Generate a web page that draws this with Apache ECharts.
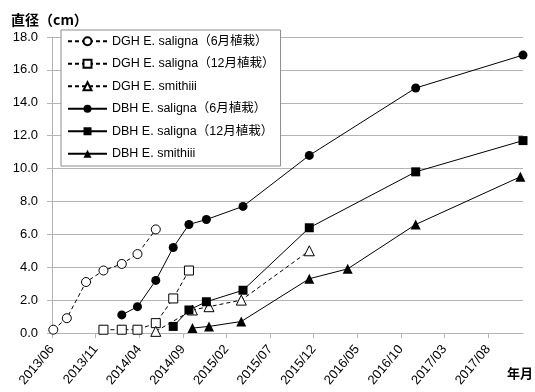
<!DOCTYPE html>
<html><head><meta charset="utf-8">
<script src="https://cdn.jsdelivr.net/npm/echarts@6/dist/echarts.min.js"></script>
<style>html,body{margin:0;padding:0;background:#fff}#c{width:535px;height:392px}</style>
</head><body><div id="c"></div>
<script>
// x values: months since 2013/06
const seriesNames = ['DGH E. saligna（6月植栽）','DGH E. saligna（12月植栽）','DGH E. smithiii','DBH E. saligna（6月植栽）','DBH E. saligna（12月植栽）','DBH E. smithiii'];
const dghSal6X = [0.15, 1.7, 3.9, 5.9, 8.0, 9.8, 11.9];
const dghSal6Y = [0.2, 0.9, 3.1, 3.8, 4.2, 4.8, 6.3];
const dghSal12X = [5.9, 8.0, 9.8, 11.9, 13.9, 15.7];
const dghSal12Y = [0.2, 0.2, 0.2, 0.6, 2.1, 3.8];
const dghSmiX = [11.9, 16.1, 18.0, 21.7, 29.5];
const dghSmiY = [0.1, 1.4, 1.6, 2.0, 5.0];
const dbhSal6X = [8.0, 9.8, 11.9, 13.9, 15.7, 17.7, 21.9, 29.5, 41.7, 54];
const dbhSal6Y = [1.1, 1.6, 3.2, 5.2, 6.6, 6.9, 7.7, 10.8, 14.9, 16.9];
const dbhSal12X = [13.9, 15.7, 17.7, 21.9, 29.5, 41.7, 54];
const dbhSal12Y = [0.4, 1.4, 1.9, 2.6, 6.4, 9.8, 11.7];
const dbhSmiX = [16.1, 18.0, 21.7, 29.5, 33.9, 41.7, 53.7];
const dbhSmiY = [0.3, 0.4, 0.7, 3.3, 3.9, 6.6, 9.5];
const xTickMonths = [0, 5, 10, 15, 20, 25, 30, 35, 40, 45, 50];
const yMin = 0, yMax = 18, yStep = 2;

function pairs(xs, ys){ return xs.map((x,i)=>[x, ys[i]]); }
function monthLabel(m){
  const t = 5 + Math.round(m);
  const y = 2013 + Math.floor(t/12);
  const mo = t % 12 + 1;
  return y + '/' + (mo < 10 ? '0' + mo : mo);
}
const FONT = '"Liberation Sans", "Noto Sans CJK JP", sans-serif';
const GRID = '#b4b4b4';
function mk(name, xs, ys, symbol, size, open, dashed){
  return {
    name, type:'line', data: pairs(xs, ys), symbol, symbolSize: size,
    showSymbol:true, animation:false,
    lineStyle:{color:'#000', width:1, type: dashed ? [4,3] : 'solid'},
    itemStyle: open ? {color:'#fff', borderColor:'#000', borderWidth:1} : {color:'#000', borderColor:'#000', borderWidth:0},
    emphasis:{disabled:true}
  };
}
const chart = echarts.init(document.getElementById('c'), null, {renderer:'canvas'});
chart.setOption({
  animation:false,
  textStyle:{fontFamily:FONT},
  title:[
    {text:'直径（cm）', left:6, top:8, textStyle:{fontFamily:'"Noto Sans CJK JP", sans-serif', fontWeight:'bold', fontSize:14, color:'#000'}},
    {text:'年月', left:502, top:362, textStyle:{fontFamily:'"Noto Sans CJK JP", sans-serif', fontWeight:'bold', fontSize:13, color:'#000'}}
  ],
  grid:{left:52, right:12, top:37, bottom:59, containLabel:false},
  legend:{
    orient:'vertical', left:61, top:30, data: seriesNames,
    itemWidth:39, itemHeight:10, itemGap:10,
    padding:[5, 6, 6, 6],
    borderColor:'#8c8c8c', borderWidth:1, backgroundColor:'#fff',
    textStyle:{fontFamily:FONT, fontSize:12.5, color:'#000'},
    selectedMode:false
  },
  xAxis:{
    type:'value', min:0, max:54,
    axisLine:{show:true, lineStyle:{color:GRID, width:1}},
    axisTick:{show:true, customValues:xTickMonths, length:5, lineStyle:{color:GRID}},
    axisLabel:{customValues:xTickMonths, rotate:50, margin:14, fontSize:13, color:'#000', fontFamily:FONT, formatter:v=>monthLabel(v)},
    splitLine:{show:false}
  },
  yAxis:{
    type:'value', min:yMin, max:yMax, interval:yStep,
    axisLine:{show:true, lineStyle:{color:GRID, width:1}},
    axisTick:{show:true, length:5, lineStyle:{color:GRID}},
    axisLabel:{margin:14, fontSize:13, color:'#000', fontFamily:FONT, formatter:v=>v.toFixed(1)},
    splitLine:{show:true, lineStyle:{color:GRID, width:1}}
  },
  series:[
    mk(seriesNames[0], dghSal6X, dghSal6Y, 'circle', 9, true, true),
    mk(seriesNames[1], dghSal12X, dghSal12Y, 'rect', 9, true, true),
    mk(seriesNames[2], dghSmiX, dghSmiY, 'triangle', 10, true, true),
    mk(seriesNames[3], dbhSal6X, dbhSal6Y, 'circle', 9, false, false),
    mk(seriesNames[4], dbhSal12X, dbhSal12Y, 'rect', 9, false, false),
    mk(seriesNames[5], dbhSmiX, dbhSmiY, 'triangle', 10, false, false)
  ]
});
</script></body></html>
